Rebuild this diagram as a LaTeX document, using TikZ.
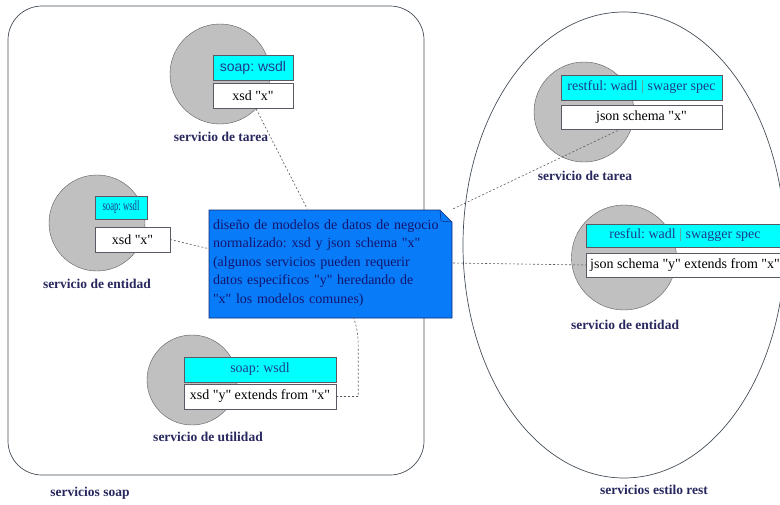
\documentclass[tikz,border=0pt]{standalone}
\usepackage{graphicx}
\usepackage{fontspec}
\setmainfont{Liberation Serif}[Ligatures=TeXOff]
\newfontfamily\arial{Liberation Sans}[Ligatures=TeXOff]
\usetikzlibrary{calc}
\frenchspacing

\definecolor{gris}{RGB}{192,192,192}
\definecolor{borde}{RGB}{90,90,100}
\definecolor{cian}{RGB}{0,255,255}
\definecolor{tintacian}{RGB}{30,60,140}
\definecolor{azulnota}{RGB}{8,124,248}
\definecolor{bordenota}{RGB}{20,40,120}
\definecolor{tintanota}{RGB}{20,20,110}
\definecolor{tinta}{RGB}{40,40,95}
\definecolor{marcogris}{RGB}{70,78,88}

\tikzset{
  servicio/.style={circle, draw=borde, fill=gris, minimum size=#1, inner sep=0pt},
  contrato/.style={draw=borde, fill=cian, text=tintacian, inner sep=0pt,
    font=\fontsize{14}{16}\selectfont},
  esquema/.style={draw=borde, fill=white, text=black, inner sep=0pt,
    font=\fontsize{14}{16}\selectfont},
  etiqueta/.style={text=tinta, font=\bfseries\fontsize{13.5}{16}\selectfont},
  marco/.style={draw=marcogris, line width=0.7pt},
  enlace/.style={draw=black!65, dash pattern=on 2pt off 2pt, line width=0.6pt},
}

\begin{document}
\begin{tikzpicture}[x=1pt,y=-1pt]
\useasboundingbox (0,0) rectangle (780,504);

% the two groups of services
\draw[marco, rounded corners=34pt] (8,6) rectangle (424,475);
\draw[marco] (624,245) ellipse [x radius=161pt, y radius=233pt];

% soap side
\node[servicio=100pt] (tareaL) at (220,74) {};
\node[contrato, minimum width=80pt, minimum height=25pt] (wsdlT) at (253,67.5)
  {\arial soap: wsdl};
\node[esquema, minimum width=80pt, minimum height=25pt] (xsdT) at (253,95.5)
  {xsd "x"};

\node[servicio=96pt] (entidadL) at (97,223) {};
\node[contrato, minimum width=52pt, minimum height=23pt] (wsdlE) at (121,207.5)
  {\scalebox{0.62}[1]{soap: wsdl}};
\node[esquema, minimum width=75pt, minimum height=25pt] (xsdE) at (132.5,239.5)
  {xsd "x"};

\node[servicio=90pt] (utilidad) at (192,380) {};
\node[contrato, minimum width=152pt, minimum height=25pt] (wsdlU) at (260,369.5)
  {soap: wsdl};
\node[esquema, minimum width=152pt, minimum height=25pt] (xsdU) at (260,396.5)
  {xsd "y" extends from "x"};

% rest side
\node[servicio=100pt] (tareaR) at (584,112) {};
\node[contrato, minimum width=161pt, minimum height=25pt] (wadlT) at (641.5,87.5)
  {restful: wadl \textcolor{gray}{|} swager spec};
\node[esquema, minimum width=161pt, minimum height=24pt] (jsonT) at (641.5,117)
  {json schema "x"};

\node[servicio=105pt] (entidadR) at (624,257.5) {};
\node[contrato, minimum width=198pt, minimum height=23pt] (wadlE) at (685,235.5)
  {resful: wadl \textcolor{gray}{|} swagger spec};
\node[esquema, minimum width=198pt, minimum height=24pt] (jsonE) at (685,265)
  {json schema "y" extends from "x"};

% shared data model note
\filldraw[fill=azulnota, draw=bordenota, line width=0.6pt]
  (209,210) -- (440,210) -- (452,222) -- (452,318) -- (209,318) -- cycle;
\draw[bordenota, line width=0.5pt] (440,210) -- (441,221) -- (452,222);
\node[text=tintanota, minimum width=243pt, minimum height=108pt, inner sep=0pt,
  text width=237pt, align=left, font=\fontsize{14}{18.6}\selectfont]
  (modelo) at (331.5,263) {diseño de modelos de datos de negocio\\
  normalizado: xsd y json schema "x"\\
  (algunos servicios pueden requerir\\
  datos especificos "y" heredando de\\
  "x" los modelos comunes)};

% labels
\node[etiqueta] (lblTareaL) at (221,137) {servicio de tarea};
\node[etiqueta] (lblEntidadL) at (97,284) {servicio de entidad};
\node[etiqueta] (lblUtilidad) at (208,437) {servicio de utilidad};
\node[etiqueta] (lblTareaR) at (585,176) {servicio de tarea};
\node[etiqueta] (lblEntidadR) at (625,325) {servicio de entidad};
\node[etiqueta] (lblSoap) at (90,493) {servicios soap};
\node[etiqueta] (lblRest) at (654,490) {servicios estilo rest};

% links to the note
\draw[enlace] (tareaL.-44) -- ($(modelo.north west)!0.4!(modelo.north east)$);
\draw[enlace] (xsdE.east) -- ($(modelo.north west)!0.37!(modelo.south west)$);
\draw[enlace] (xsdU.east) -- ++(22,0) -- ++(0,-50)
  .. controls +(0,-16) and +(2,6) .. ($(modelo.south west)!0.59!(modelo.south east)$);
\draw[enlace] (modelo.north east) -- ($(jsonT.south west)!0.37!(jsonT.south east)$);
\draw[enlace] (modelo.east) -- (jsonE.west);

\end{tikzpicture}
\end{document}
